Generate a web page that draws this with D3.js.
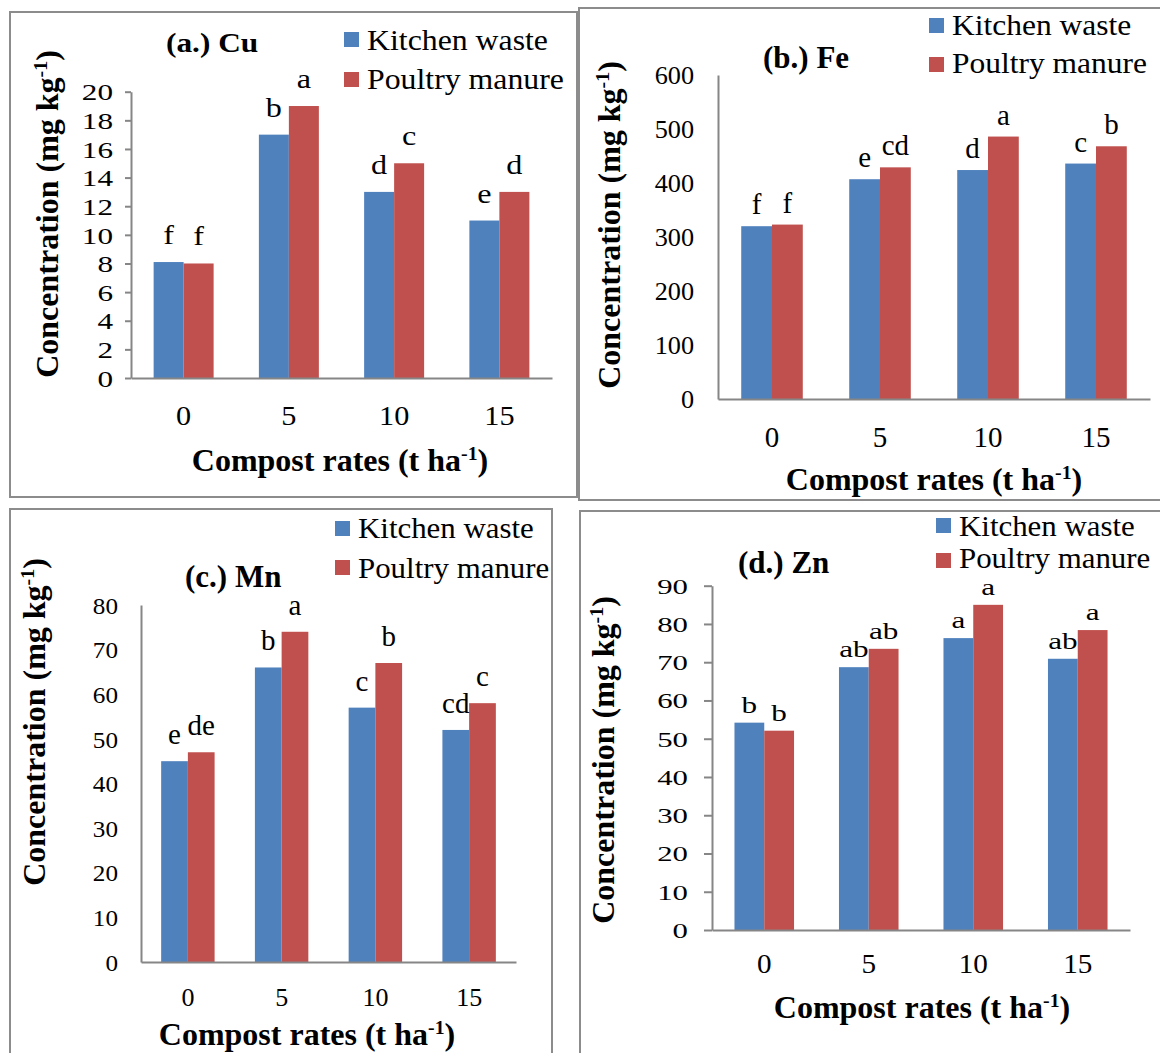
<!DOCTYPE html>
<html>
<head>
<meta charset="utf-8">
<script src="https://cdn.jsdelivr.net/npm/d3@7"></script>
<style>
body{margin:0;background:#fff;}
svg{display:block;font-family:"Liberation Serif","Times New Roman",serif;}
</style>
</head>
<body>
<div id="chart"></div>
<script>
// compost rates (t/ha) and the two compost types
var categories = ['0', '5', '10', '15'];
var seriesNames = ['Kitchen waste', 'Poultry manure'];
var colors = ['#4F81BD', '#C0504D'];

// (a.) Cu
var cuKitchen = [8.1, 17, 13, 11];
var cuPoultry = [8, 19, 15, 13];
var cuKitchenLetters = ['f', 'b', 'd', 'e'];
var cuPoultryLetters = ['f', 'a', 'c', 'd'];
var cuTicks = [0, 2, 4, 6, 8, 10, 12, 14, 16, 18, 20];

// (b.) Fe
var feKitchen = [320, 407, 424, 436];
var fePoultry = [323, 429, 486, 468];
var feKitchenLetters = ['f', 'e', 'd', 'c'];
var fePoultryLetters = ['f', 'cd', 'a', 'b'];
var feTicks = [0, 100, 200, 300, 400, 500, 600];

// (c.) Mn
var mnKitchen = [45, 66, 57, 52];
var mnPoultry = [47, 74, 67, 58];
var mnKitchenLetters = ['e', 'b', 'c', 'cd'];
var mnPoultryLetters = ['de', 'a', 'b', 'c'];
var mnTicks = [0, 10, 20, 30, 40, 50, 60, 70, 80];

// (d.) Zn
var znKitchen = [54.2, 68.7, 76.3, 70.9];
var znPoultry = [52.1, 73.5, 85, 78.4];
var znKitchenLetters = ['b', 'ab', 'a', 'ab'];
var znPoultryLetters = ['b', 'ab', 'a', 'a'];
var znTicks = [0, 10, 20, 30, 40, 50, 60, 70, 80, 90];

var svg = d3.select('#chart').append('svg')
  .attr('width', 1160)
  .attr('height', 1053);

// put a text at x,y and stretch it sideways (the source figure is a bit squashed)
function place(sel, x, y, sx) {
  sel.attr('x', 0).attr('y', 0)
    .attr('transform', 'translate(' + x + ',' + y + ') scale(' + (sx || 1) + ',1)');
}

function addSup(text, main, sup, tail) {
  text.append('tspan').text(main);
  text.append('tspan').attr('baseline-shift', 'super').attr('font-size', '62%').text(sup);
  text.append('tspan').text(tail);
}

var panels = [
  {title: '(a.) Cu', kitchen: cuKitchen, poultry: cuPoultry, kl: cuKitchenLetters, pl: cuPoultryLetters, ticks: cuTicks,
   box: [10, 12, 567, 485], xr: [131, 552], yr: [378, 91.7],
   tickLen: 6, tickEnd: 113, tickFont: 24, tickSx: 1.3,
   xtBase: 425, xtFont: 28, xtSx: 1.08,
   letFont: 28, letSx: 1.15, letGap: 18,
   titleX: 166, titleY: 52, titleFont: 28, titleSx: 1.12,
   legX: 344, legY: [32, 72], legTextY: [50, 89], legSx: 1.06,
   xTitleX: 340, xTitleY: 471, yTitleX: 58, yTitleY: 214},
  {title: '(b.) Fe', kitchen: feKitchen, poultry: fePoultry, kl: feKitchenLetters, pl: fePoultryLetters, ticks: feTicks,
   box: [579, 8, 600, 492], xr: [718, 1150], yr: [399, 75],
   tickLen: 0, tickEnd: 694, tickFont: 25, tickSx: 1.05,
   xtBase: 447, xtFont: 29, xtSx: 1.0,
   letFont: 29, letSx: 1.0, letGap: 12,
   titleX: 763, titleY: 68, titleFont: 31, titleSx: 1.0,
   legX: 929, legY: [18, 57], legTextY: [35, 73], legSx: 1.05,
   xTitleX: 934, xTitleY: 490, yTitleX: 620, yTitleY: 225},
  {title: '(c.) Mn', kitchen: mnKitchen, poultry: mnPoultry, kl: mnKitchenLetters, pl: mnPoultryLetters, ticks: mnTicks,
   box: [10, 509, 542, 560], xr: [141, 516], yr: [962, 605],
   tickLen: 0, tickEnd: 118, tickFont: 24, tickSx: 1.05,
   xtBase: 1006, xtFont: 26, xtSx: 1.0,
   letFont: 29, letSx: 1.0, letGap: 17,
   titleX: 185, titleY: 587, titleFont: 31, titleSx: 1.0,
   legX: 335, legY: [521, 560], legTextY: [538, 578], legSx: 1.03,
   xTitleX: 307, xTitleY: 1045, yTitleX: 45, yTitleY: 722},
  {title: '(d.) Zn', kitchen: znKitchen, poultry: znPoultry, kl: znKitchenLetters, pl: znPoultryLetters, ticks: znTicks,
   box: [580, 511, 600, 560], xr: [712, 1130], yr: [930, 585.7],
   tickLen: 8, tickEnd: 688, tickFont: 22, tickSx: 1.4,
   xtBase: 973, xtFont: 27, xtSx: 1.08,
   letFont: 24, letSx: 1.3, letGap: 10,
   titleX: 738, titleY: 573, titleFont: 31, titleSx: 1.0,
   legX: 936, legY: [518, 553], legTextY: [536, 568], legSx: 1.03,
   xTitleX: 922, xTitleY: 1018, yTitleX: 614, yTitleY: 760}
];

panels.forEach(function(p) {
  var g = svg.append('g');

  g.append('rect')
    .attr('x', p.box[0]).attr('y', p.box[1])
    .attr('width', p.box[2]).attr('height', p.box[3])
    .attr('fill', 'none')
    .attr('stroke', '#8c8c8c')
    .attr('stroke-width', 2);

  var x0 = d3.scaleBand().domain(categories).range(p.xr);
  var groupW = x0.bandwidth() * 0.57;
  var x1 = d3.scaleBand().domain(seriesNames).range([0, groupW]);
  var y = d3.scaleLinear()
    .domain([0, p.ticks[p.ticks.length - 1]])
    .range(p.yr);

  var rows = categories.map(function(c, i) {
    return [
      {cat: c, s: seriesNames[0], v: p.kitchen[i], letter: p.kl[i], color: colors[0]},
      {cat: c, s: seriesNames[1], v: p.poultry[i], letter: p.pl[i], color: colors[1]}
    ];
  });
  var bars = d3.merge(rows);
  function barX(d) {
    return x0(d.cat) + (x0.bandwidth() - groupW) / 2 + x1(d.s);
  }

  g.selectAll('rect.bar')
    .data(bars)
    .enter().append('rect')
    .attr('class', 'bar')
    .attr('x', barX)
    .attr('y', function(d) { return y(d.v); })
    .attr('width', x1.bandwidth())
    .attr('height', function(d) { return y(0) - y(d.v); })
    .attr('fill', function(d) { return d.color; });

  // significance letters
  g.selectAll('text.letter')
    .data(bars)
    .enter().append('text')
    .attr('class', 'letter')
    .attr('text-anchor', 'middle')
    .attr('font-size', p.letFont)
    .attr('fill', '#000')
    .text(function(d) { return d.letter; })
    .each(function(d) {
      place(d3.select(this), barX(d) + x1.bandwidth() / 2, y(d.v) - p.letGap, p.letSx);
    });

  // y axis
  var yAxis = d3.axisLeft(y).tickValues(p.ticks).tickSize(p.tickLen).tickSizeOuter(0);
  var ya = g.append('g').attr('transform', 'translate(' + p.xr[0] + ',0)').call(yAxis);
  ya.attr('font-family', null).attr('font-size', null);
  ya.select('.domain').attr('stroke', '#868686').attr('stroke-width', 2);
  ya.selectAll('.tick line').attr('stroke', '#868686').attr('stroke-width', 2);
  ya.selectAll('.tick text')
    .attr('font-size', p.tickFont)
    .attr('fill', '#000')
    .attr('dy', '0.34em')
    .each(function() { place(d3.select(this), p.tickEnd - p.xr[0], 0, p.tickSx); });

  // x axis
  var xAxis = d3.axisBottom(x0).tickSize(0).tickSizeOuter(0);
  var xa = g.append('g').attr('transform', 'translate(0,' + p.yr[0] + ')').call(xAxis);
  xa.attr('font-family', null).attr('font-size', null);
  xa.select('.domain').attr('stroke', '#868686').attr('stroke-width', 2);
  xa.selectAll('.tick text')
    .attr('font-size', p.xtFont)
    .attr('fill', '#000')
    .attr('dy', null)
    .each(function() { place(d3.select(this), 0, p.xtBase - p.yr[0], p.xtSx); });

  // title
  g.append('text')
    .attr('font-size', p.titleFont)
    .attr('font-weight', 'bold')
    .text(p.title)
    .call(place, p.titleX, p.titleY, p.titleSx);

  // legend
  seriesNames.forEach(function(s, i) {
    g.append('rect')
      .attr('x', p.legX).attr('y', p.legY[i])
      .attr('width', 15).attr('height', 15)
      .attr('fill', colors[i]);
    g.append('text')
      .attr('font-size', 30)
      .text(s)
      .call(place, p.legX + 23, p.legTextY[i], p.legSx);
  });

  // axis titles
  var xt = g.append('text')
    .attr('text-anchor', 'middle')
    .attr('font-size', 32)
    .attr('font-weight', 'bold')
    .attr('transform', 'translate(' + p.xTitleX + ',' + p.xTitleY + ')');
  addSup(xt, 'Compost rates (t ha', '-1', ')');

  var yt = g.append('text')
    .attr('text-anchor', 'middle')
    .attr('font-size', 32)
    .attr('font-weight', 'bold')
    .attr('transform', 'translate(' + p.yTitleX + ',' + p.yTitleY + ') rotate(-90)');
  addSup(yt, 'Concentration (mg kg', '-1', ')');
});
</script>
</body>
</html>
